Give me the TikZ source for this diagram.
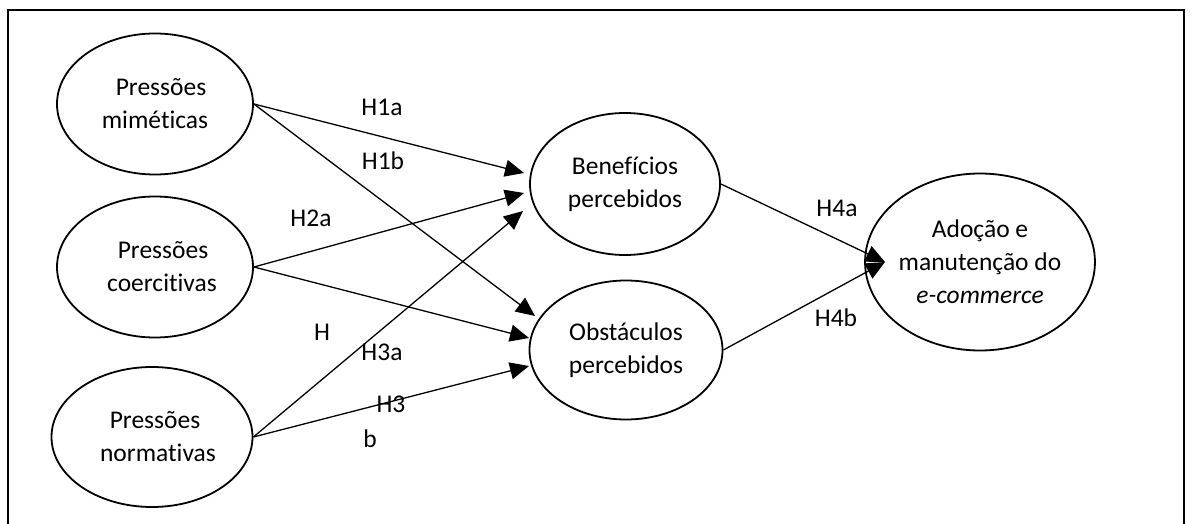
\documentclass[tikz,border=0pt]{standalone}
\usepackage{fontspec}
\setmainfont[Ligatures=NoCommon]{Carlito}
\usetikzlibrary{arrows.meta,shapes.geometric}
\begin{document}
\begin{tikzpicture}[x=1pt,y=-1pt,
  construct/.style={draw, ellipse, line width=1.8pt, inner sep=0pt, align=center,
    font=\fontsize{25.5}{33}\selectfont},
  link/.style={line width=1.3pt, -{Triangle[length=19pt,width=17pt]}},
  hyp/.style={font=\fontsize{25.5}{30}\selectfont, inner sep=0pt}]
\useasboundingbox (0,0) rectangle (1192,524);
\draw[line width=2pt] (8,540) -- (8,10) -- (1184,10) -- (1184,540);

\node[construct, minimum width=196pt, minimum height=141pt] (mim) at (155,104) {\hspace*{12pt}Pressões\\miméticas};
\node[construct, minimum width=196pt, minimum height=141pt] (coe) at (155,267) {\hspace*{16pt}Pressões\\\hspace*{14pt}coercitivas};
\node[construct, minimum width=201pt, minimum height=140pt] (nor) at (152,437) {\hspace*{6pt}Pressões\\\hspace*{12pt}normativas};
\node[construct, minimum width=190pt, minimum height=142pt] (ben) at (625,184) {Benefícios\\percebidos};
\node[construct, minimum width=193pt, minimum height=139pt] (obs) at (626,350) {Obstáculos\\percebidos};
\node[construct, minimum width=194pt, minimum height=177pt] (ado) at (980,262) {Adoção e\\manutenção do\\\textit{e-commerce}};

\coordinate (t1a) at (524,173);
\coordinate (t2a) at (524,193);
\coordinate (t3a) at (523,211);
\coordinate (t1b) at (535,316);
\coordinate (t2b) at (529,338);
\coordinate (t3b) at (529,366);
\coordinate (t4) at (885,262);

\draw[link] (mim.east) -- (t1a);
\draw[link] (mim.east) -- (t1b);
\draw[link] (coe.east) -- (t2a);
\draw[link] (coe.east) -- (t2b);
\draw[link] (nor.east) -- (t3a);
\draw[link] (nor.east) -- (t3b);
\draw[link] (ben.east) -- (t4);
\draw[link] (obs.east) -- (t4);

\node[hyp] (h1a) at (382,107) {H1a};
\node[hyp] (h1b) at (383,161) {H1b};
\node[hyp] (h2a) at (311,218) {H2a};
\node[hyp] (hh) at (322,332) {H};
\node[hyp] (h3a) at (382,352) {H3a};
\node[hyp] (h3) at (391,404) {H3};
\node[hyp] (hb) at (370,439) {b};
\node[hyp] (h4a) at (837,208) {H4a};
\node[hyp] (h4b) at (836,318) {H4b};
\end{tikzpicture}
\end{document}
